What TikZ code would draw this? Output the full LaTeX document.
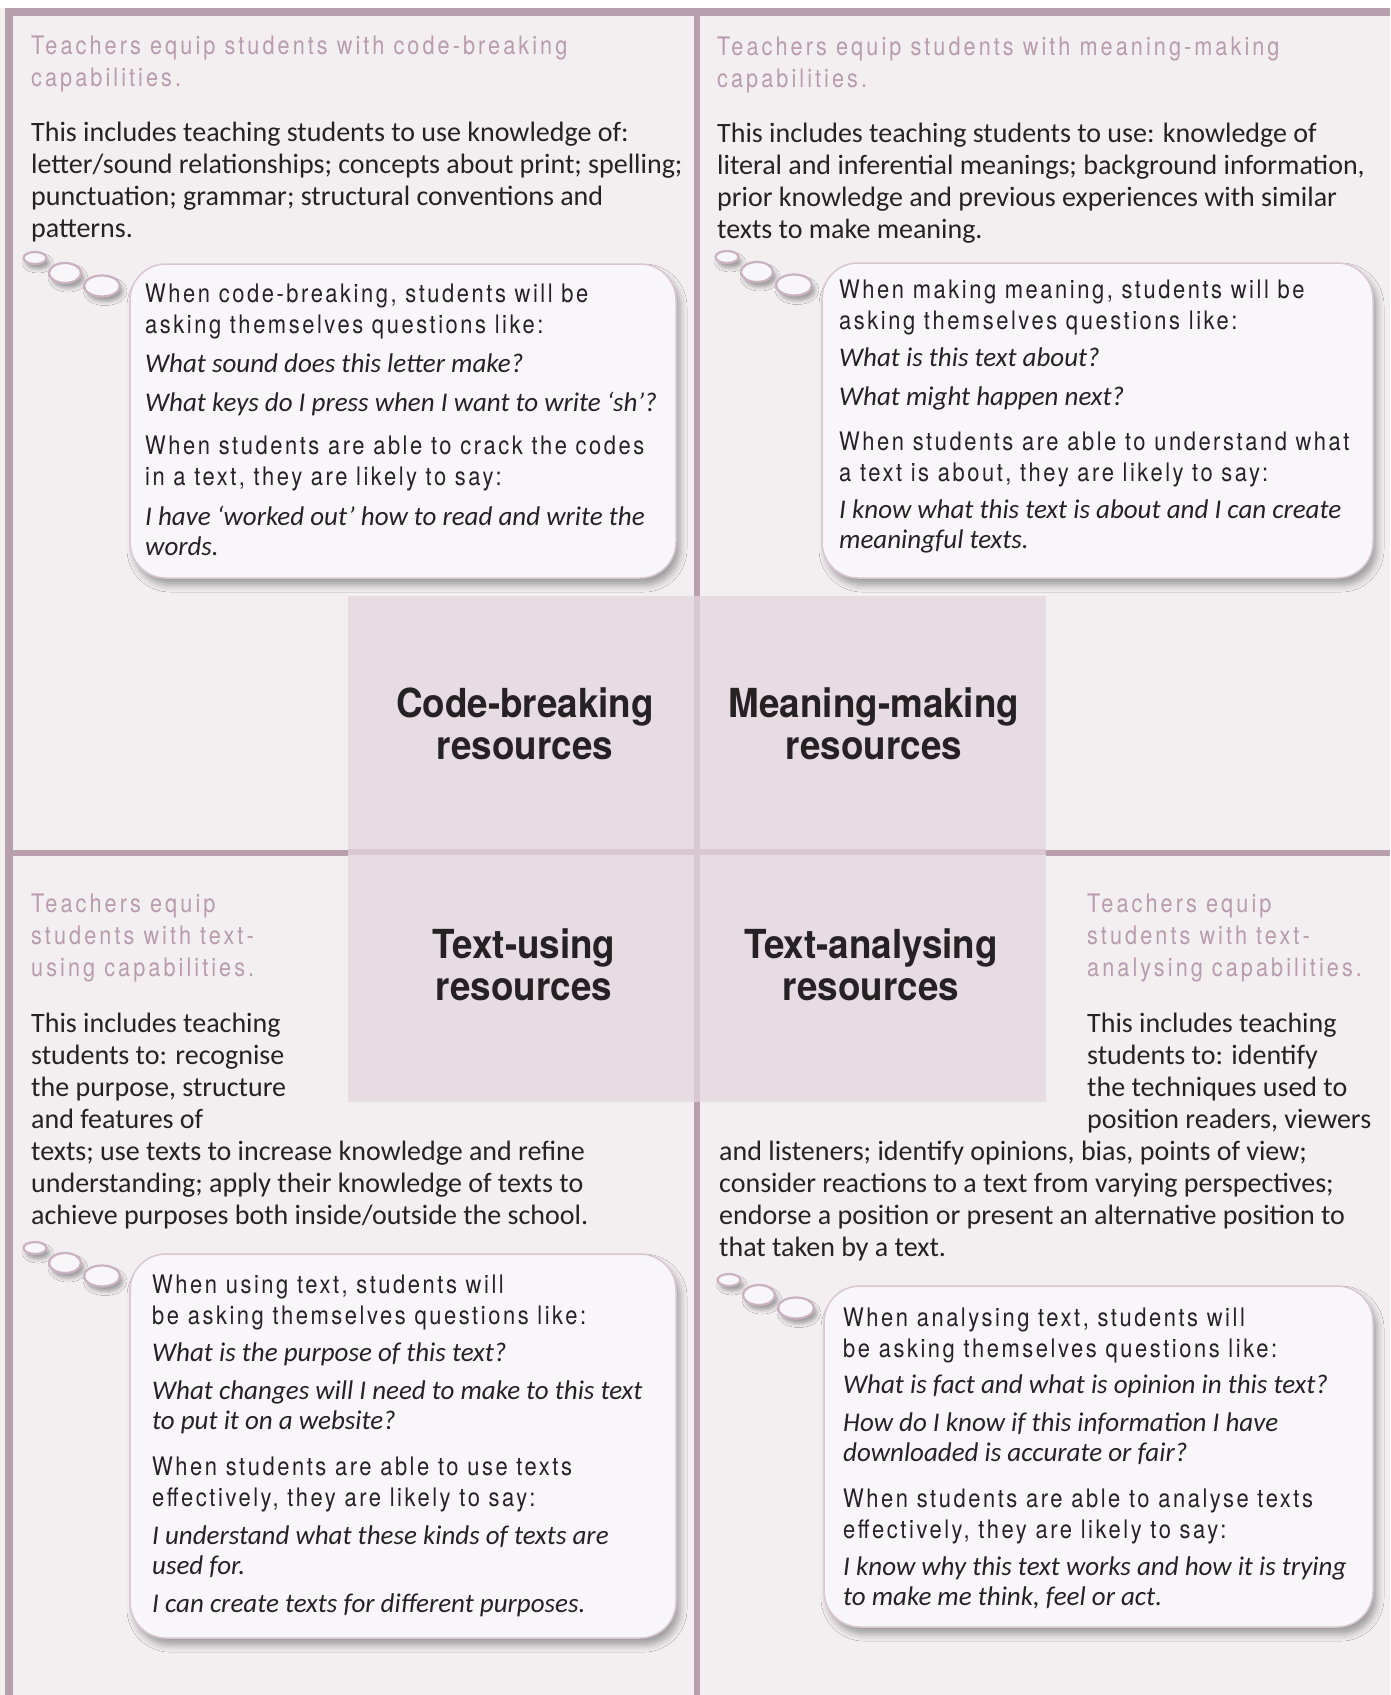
\documentclass[tikz,border=0pt]{standalone}
\usepackage{fontspec}
\setmainfont{Carlito}
\newfontfamily\headfont[FakeStretch=0.85,LetterSpace=12]{TeX Gyre Heros}
\newfontfamily\askfont[FakeStretch=0.86,LetterSpace=10]{TeX Gyre Heros}
\newfontfamily\labelfont[FakeStretch=0.92]{TeX Gyre Heros}
\usepackage{tikz}
\usetikzlibrary{shadows.blur}
\definecolor{panelbg}{HTML}{F3EFF1}
\definecolor{framecol}{HTML}{B89FAE}
\definecolor{headcol}{HTML}{B89BAD}
\definecolor{blockfill}{HTML}{E6DCE2}
\definecolor{blockline}{HTML}{D9C8D2}
\definecolor{bubblefill}{HTML}{F8F6F9}
\definecolor{bubbleline}{HTML}{D8C7D1}
\definecolor{puffline}{HTML}{C9B1BF}
\definecolor{inkcol}{HTML}{262223}

\begin{document}
\begin{tikzpicture}[x=1pt, y=-1pt,
    head/.style={anchor=north west, inner sep=0pt, align=left, text=headcol, font=\headfont\fontsize{25.5}{32}\selectfont},
    body/.style={anchor=north west, inner sep=0pt, align=left, text=inkcol, font=\fontsize{28}{32}\selectfont},
    ask/.style={anchor=north west, inner sep=0pt, align=left, text=inkcol, font=\askfont\fontsize{25.5}{31}\selectfont},
    say/.style={anchor=north west, inner sep=0pt, align=left, text=inkcol, font=\itshape\fontsize{27}{30}\selectfont},
    res/.style={align=center, inner sep=0pt, text=inkcol, font=\labelfont\bfseries\fontsize{40}{42}\selectfont},
    bubble/.style={draw=bubbleline, line width=1.5pt, fill=bubblefill, rounded corners=36pt,
        blur shadow={shadow xshift=4pt, shadow yshift=-7pt, shadow blur radius=7pt, shadow opacity=35}},
    puff/.style={draw=puffline, line width=2.2pt, fill=bubblefill,
        blur shadow={shadow xshift=3pt, shadow yshift=-5pt, shadow blur radius=4pt, shadow opacity=35}}]
        \useasboundingbox (0,0) rectangle (1390,1695);
        \fill[panelbg] (0,0) rectangle (1390,1695);
        \fill[white] (0,0) rectangle (1390,8);

        % frame and dividers
        \fill[framecol] (5,8) rectangle (1390,16);
        \fill[framecol] (5,16) rectangle (13,1695);
        \fill[framecol] (694,16) rectangle (700,596);
        \fill[framecol] (694,1102) rectangle (700,1695);
        \fill[framecol] (13,850) rectangle (348,856);
        \fill[framecol] (1046,850) rectangle (1390,856);

        % centre block
        \fill[blockfill] (348,596) rectangle (1046,1102);
        \fill[blockline] (694,596) rectangle (700,1102);
        \fill[blockline] (348,849) rectangle (1046,855);

        \node[res] (CB) at (525,724) {Code-breaking\\resources};
        \node[res] (MM) at (874,724) {Meaning-making\\resources};
        \node[res] (TU) at (524,965) {Text-using\\resources};
        \node[res] (TA) at (871,965) {Text-analysing\\resources};

        % code-breaking
        \node[head] (H1) at (31,36) {Teachers equip students with code-breaking\\capabilities.};
        \node[body] (B1) at (31,122) {This includes teaching students to use knowledge of:\\letter/sound relationships; concepts about print; spelling;\\punctuation; grammar; structural conventions and\\patterns.};
        \draw[bubble] (130,264) rectangle (676,578);
        \draw[puff] (35,258) ellipse [x radius=11.5, y radius=6];
        \draw[puff] (65,273) ellipse [x radius=16, y radius=10];
        \draw[puff] (102,286) ellipse [x radius=18, y radius=10.5];
        \node[ask] (Q1) at (145,284) {When code-breaking, students will be\\asking themselves questions like:};
        \node[say] (Q1a) at (145,354) {What sound does this letter make?};
        \node[say] (Q1b) at (145,392) {What keys do I press when I want to write ‘sh’?};
        \node[ask] (S1) at (145,436) {When students are able to crack the codes\\in a text, they are likely to say:};
        \node[say] (S1a) at (145,506) {I have ‘worked out’ how to read and write the\\words.};

        % meaning-making
        \node[head] (H2) at (717,37) {Teachers equip students with meaning-making\\capabilities.};
        \node[body] (B2) at (717,123) {This includes teaching students to use: knowledge of\\literal and inferential meanings; background information,\\prior knowledge and previous experiences with similar\\texts to make meaning.};
        \draw[bubble] (822,263) rectangle (1373,578);
        \draw[puff] (727,257) ellipse [x radius=11.5, y radius=6];
        \draw[puff] (757,272) ellipse [x radius=16, y radius=10];
        \draw[puff] (794,285) ellipse [x radius=18, y radius=10.5];
        \node[ask] (Q2) at (839,280) {When making meaning, students will be\\asking themselves questions like:};
        \node[say] (Q2a) at (839,348) {What is this text about?};
        \node[say] (Q2b) at (839,387) {What might happen next?};
        \node[ask] (S2) at (839,432) {When students are able to understand what\\a text is about, they are likely to say:};
        \node[say] (S2a) at (839,500) {I know what this text is about and I can create\\meaningful texts.};

        % text-using
        \node[head] (H3) at (31,894) {Teachers equip\\students with text-\\using capabilities.};
        \node[body] (B3) at (31,1013) {This includes teaching\\students to: recognise\\the purpose, structure\\and features of\\texts; use texts to increase knowledge and refine\\understanding; apply their knowledge of texts to\\achieve purposes both inside/outside the school.};
        \draw[bubble] (130,1254) rectangle (676,1638);
        \draw[puff] (35,1248) ellipse [x radius=11.5, y radius=6];
        \draw[puff] (65,1263) ellipse [x radius=16, y radius=10];
        \draw[puff] (102,1276) ellipse [x radius=18, y radius=10.5];
        \node[ask] (Q3) at (152,1275) {When using text, students will\\be asking themselves questions like:};
        \node[say] (Q3a) at (152,1343) {What is the purpose of this text?};
        \node[say] (Q3b) at (152,1381) {What changes will I need to make to this text\\to put it on a website?};
        \node[ask] (S3) at (152,1457) {When students are able to use texts\\effectively, they are likely to say:};
        \node[say] (S3a) at (152,1526) {I understand what these kinds of texts are\\used for.};
        \node[say] (S3b) at (152,1594) {I can create texts for different purposes.};

        % text-analysing
        \node[head] (H4) at (1087,894) {Teachers equip\\students with text-\\analysing capabilities.};
        \node[body] (B4) at (1087,1013) {This includes teaching\\students to: identify\\the techniques used to\\position readers, viewers};
        \node[body] (B4b) at (719,1141) {and listeners; identify opinions, bias, points of view;\\consider reactions to a text from varying perspectives;\\endorse a position or present an alternative position to\\that taken by a text.};
        \draw[bubble] (824,1286) rectangle (1373,1627);
        \draw[puff] (729,1280) ellipse [x radius=11.5, y radius=6];
        \draw[puff] (759,1295) ellipse [x radius=16, y radius=10];
        \draw[puff] (796,1308) ellipse [x radius=18, y radius=10.5];
        \node[ask] (Q4) at (843,1308) {When analysing text, students will\\be asking themselves questions like:};
        \node[say] (Q4a) at (843,1375) {What is fact and what is opinion in this text?};
        \node[say] (Q4b) at (843,1413) {How do I know if this information I have\\downloaded is accurate or fair?};
        \node[ask] (S4) at (843,1489) {When students are able to analyse texts\\effectively, they are likely to say:};
        \node[say] (S4a) at (843,1557) {I know why this text works and how it is trying\\to make me think, feel or act.};
    \end{tikzpicture}
\end{document}
